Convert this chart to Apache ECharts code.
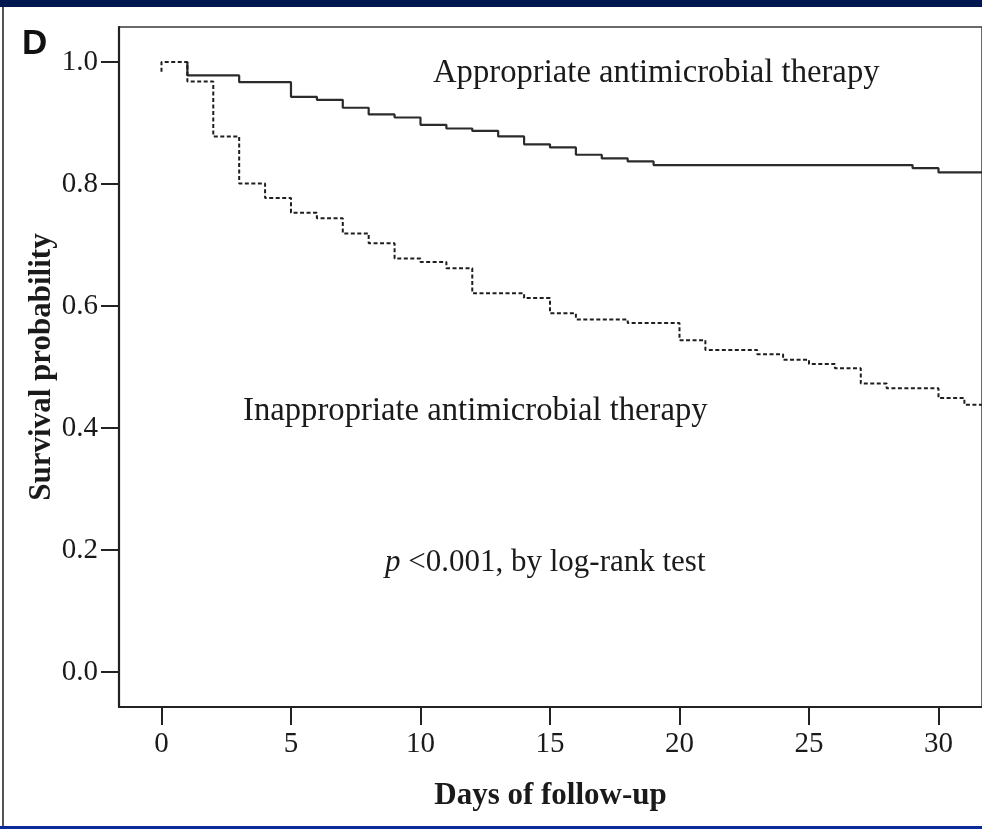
<!DOCTYPE html>
<html>
<head>
<meta charset="utf-8">
<script src="https://cdn.jsdelivr.net/npm/echarts@6/dist/echarts.min.js"></script>
<style>
  html, body { margin: 0; padding: 0; background: #ffffff; }
  #chart { width: 982px; height: 829px; }
</style>
</head>
<body>
<div id="chart"></div>
<script>
// ---- data ----
const xTicks = [0, 5, 10, 15, 20, 25, 30];
const yTicks = [0, 0.2, 0.4, 0.6, 0.8, 1.0];

// Appropriate antimicrobial therapy (solid)
const apprDays = [1, 1, 3, 5, 6, 7, 8, 9, 10, 11, 12, 13, 14, 15, 16, 17, 18, 19, 29, 30, 31.7];
const apprSurv = [1.0, 0.978, 0.967, 0.943, 0.938, 0.925, 0.914, 0.909, 0.897, 0.891, 0.887, 0.878, 0.865, 0.860, 0.848, 0.842, 0.837, 0.831, 0.826, 0.819, 0.819];

// Inappropriate antimicrobial therapy (dashed)
const inapprDays = [0, 0, 1, 2, 3, 4, 5, 6, 7, 8, 9, 10, 11, 12, 14, 15, 16, 18, 20, 21, 23, 24, 25, 26, 27, 28, 30, 31, 31.7];
const inapprSurv = [0.984, 1.0, 0.968, 0.878, 0.801, 0.777, 0.753, 0.744, 0.719, 0.703, 0.678, 0.672, 0.662, 0.621, 0.613, 0.588, 0.578, 0.572, 0.544, 0.528, 0.521, 0.512, 0.505, 0.498, 0.473, 0.465, 0.449, 0.438, 0.438];

const labelAppr = 'Appropriate antimicrobial therapy';
const labelInappr = 'Inappropriate antimicrobial therapy';
const xTitle = 'Days of follow-up';
const yTitle = 'Survival probability';
const panelLetter = 'D';

// ---- chart ----
const serif = "'Liberation Serif', 'Times New Roman', serif";
const chart = echarts.init(document.getElementById('chart'), null, { renderer: 'canvas' });

const option = {
  animation: false,
  backgroundColor: '#ffffff',
  grid: {
    left: 119, right: -5, top: 27, bottom: 122,
    show: true, borderColor: '#3a3a3a', borderWidth: 1.5, backgroundColor: '#ffffff'
  },
  xAxis: {
    type: 'value',
    min: -1.64, max: 31.68,
    name: xTitle,
    nameLocation: 'middle',
    nameGap: 73,
    nameMoveOverlap: false,
    nameTextStyle: { fontFamily: serif, fontWeight: 'bold', fontSize: 31, color: '#1a1a1a' },
    axisLine: { show: true, onZero: false, lineStyle: { color: '#222', width: 2.2 } },
    axisTick: { show: true, inside: false, length: 18, customValues: xTicks, lineStyle: { color: '#222', width: 2 } },
    axisLabel: { customValues: xTicks, margin: 23, fontFamily: serif, fontSize: 29, color: '#1a1a1a' },
    splitLine: { show: false }
  },
  yAxis: {
    type: 'value',
    min: -0.0574, max: 1.0574,
    name: yTitle,
    nameLocation: 'middle',
    nameGap: 62,
    nameRotate: 90,
    nameMoveOverlap: false,
    nameTextStyle: { fontFamily: serif, fontWeight: 'bold', fontSize: 31, color: '#1a1a1a' },
    axisLine: { show: true, onZero: false, lineStyle: { color: '#222', width: 2.2 } },
    axisTick: { show: true, inside: false, length: 18, customValues: yTicks, lineStyle: { color: '#222', width: 2 } },
    axisLabel: { customValues: yTicks, margin: 21, fontFamily: serif, fontSize: 29, color: '#1a1a1a',
      formatter: v => Number(v).toFixed(1) },
    splitLine: { show: false }
  },
  series: [
    {
      name: labelAppr,
      type: 'line',
      step: 'end',
      symbol: 'none',
      z: 2,
      lineStyle: { color: '#2b2b2b', width: 2.2, type: 'solid' },
      data: apprDays.map((d, i) => [d, apprSurv[i]])
    },
    {
      name: labelInappr,
      type: 'line',
      step: 'end',
      symbol: 'none',
      z: 3,
      lineStyle: { color: '#1e1e1e', width: 2, type: [4, 2.5] },
      data: inapprDays.map((d, i) => [d, inapprSurv[i]])
    }
  ],
  graphic: [
    { type: 'rect', left: 0, top: 0, shape: { width: 982, height: 7 }, style: { fill: '#00174f' }, silent: true },
    { type: 'rect', left: 2, top: 7, shape: { width: 2, height: 820 }, style: { fill: '#555555' }, silent: true },
    { type: 'rect', left: 0, top: 826, shape: { width: 982, height: 3 }, style: { fill: '#0b2c98' }, silent: true },
    { type: 'text', x: 22, y: 44, style: { text: panelLetter, font: "bold 35px 'Liberation Sans', Arial, sans-serif", fill: '#111', verticalAlign: 'middle', align: 'left' } },
    { type: 'text', x: 433, y: 73, style: { text: labelAppr, font: '32.7px ' + serif, fill: '#1a1a1a', verticalAlign: 'middle', align: 'left' } },
    { type: 'text', x: 243, y: 411, style: { text: labelInappr, font: '32.7px ' + serif, fill: '#1a1a1a', verticalAlign: 'middle', align: 'left' } },
    { type: 'text', x: 385, y: 563, style: {
        text: '{i|p} <0.001, by log-rank test',
        font: '31px ' + serif, fill: '#1a1a1a', verticalAlign: 'middle', align: 'left',
        rich: { i: { fontStyle: 'italic', fontFamily: serif, fontSize: 31, fill: '#1a1a1a' } }
      } }
  ]
};
chart.setOption(option);
</script>
</body>
</html>
